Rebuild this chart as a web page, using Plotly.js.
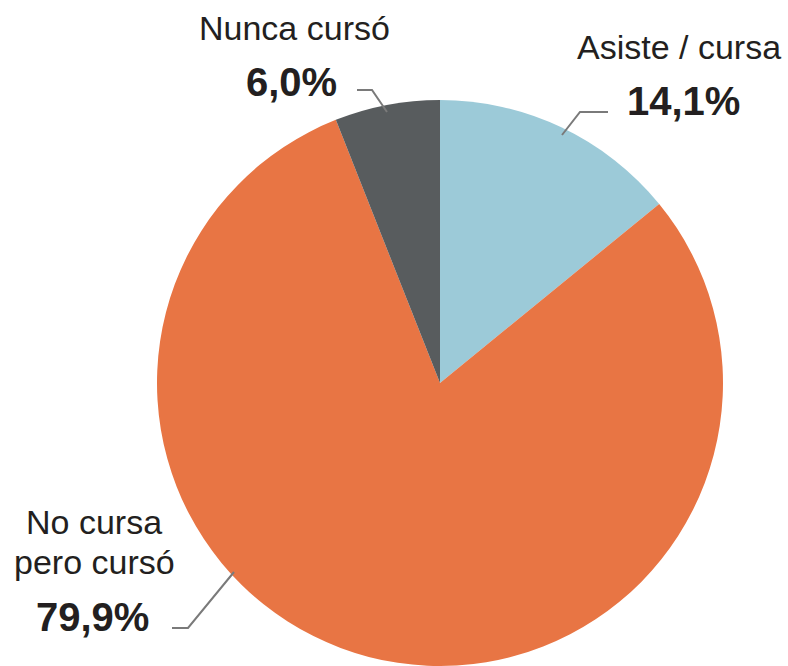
<!DOCTYPE html>
<html>
<head>
<meta charset="utf-8">
<script src="https://cdn.plot.ly/plotly-3.0.1.min.js"></script>
<style>html,body{margin:0;padding:0;background:#fff;}#chart{width:788px;height:666px;}</style>
</head>
<body>
<div id="chart"></div>
<script>
var categories = ["Asiste / cursa", "No cursa pero cursó", "Nunca cursó"];
var values = [14.1, 79.9, 6.0];
var valueLabels = ["14,1%", "79,9%", "6,0%"];
var colors = ["#9ccad8", "#e87544", "#585c5e"];

var W = 788, H = 666;
function px(x){ return x / W; }
function py(y){ return 1 - y / H; }

var txt = "#231f20";
var regFont = {family: "Liberation Sans, Arial, sans-serif", size: 34, color: txt};
var boldFont = {family: "Liberation Sans, Arial, sans-serif", size: 40, color: txt, weight: "bold"};

function ann(text, x, y, font) {
  return {text: text, x: px(x), y: py(y), xref: "paper", yref: "paper",
          xanchor: "center", yanchor: "middle", showarrow: false, font: font};
}

var annotations = [
  ann(categories[2], 294, 28, regFont),
  ann("<b>" + valueLabels[2] + "</b>", 291, 82, boldFont),
  ann("Asiste / cursa", 679, 47, regFont),
  ann("<b>" + valueLabels[0] + "</b>", 683, 101, boldFont),
  ann("No cursa", 94, 522, regFont),
  ann("pero cursó", 94, 562, regFont),
  ann("<b>" + valueLabels[1] + "</b>", 92, 617, boldFont)
];

function path(pts) {
  var s = "";
  for (var i = 0; i < pts.length; i++) {
    s += (i === 0 ? "M" : " L") + px(pts[i][0]) + "," + py(pts[i][1]);
  }
  return s;
}
var lineStyle = {color: "#7a7a7a", width: 2};
var shapes = [
  {type: "path", xref: "paper", yref: "paper", path: path([[357, 90], [372, 90], [387, 112]]), line: lineStyle},
  {type: "path", xref: "paper", yref: "paper", path: path([[608, 112], [580, 112], [562, 135]]), line: lineStyle},
  {type: "path", xref: "paper", yref: "paper", path: path([[172, 628], [188, 628], [234, 572]]), line: lineStyle}
];

var trace = {
  type: "pie",
  labels: categories,
  values: values,
  sort: false,
  direction: "clockwise",
  rotation: 0,
  textinfo: "none",
  hoverinfo: "label+percent",
  marker: {colors: colors, line: {width: 0}},
  domain: {x: [px(157), px(723)], y: [0, 566 / H]},
  showlegend: false
};

var layout = {
  width: W, height: H,
  margin: {l: 0, r: 0, t: 0, b: 0},
  paper_bgcolor: "#ffffff",
  plot_bgcolor: "#ffffff",
  showlegend: false,
  annotations: annotations,
  shapes: shapes
};

Plotly.newPlot("chart", [trace], layout, {displayModeBar: false, staticPlot: true});
</script>
</body>
</html>
